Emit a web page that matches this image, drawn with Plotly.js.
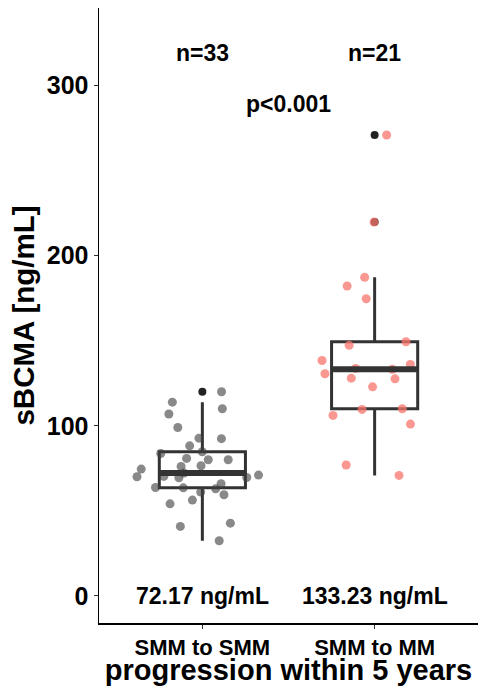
<!DOCTYPE html>
<html>
<head>
<meta charset="utf-8">
<script src="https://cdn.plot.ly/plotly-3.0.1.min.js"></script>
<style>html,body{margin:0;padding:0;background:#fff;}#chart{width:483px;height:686px;}</style>
</head>
<body>
<div id="chart"></div>
<script>
// ---- data ----
var categories = ["SMM to SMM", "SMM to MM"];
var smmToSmm = [120, 113.9, 110, 106.9, 99, 92.7, 92.4, 88.2, 83.7, 84.7, 80, 80, 80.8,
  76.5, 74.5, 76.1, 71, 69.4, 70, 72.17, 69.6, 70.2, 62.9, 63.7, 63.5, 65.9, 61, 59.4,
  56.3, 54.1, 40.8, 42.7, 32.4];
var smmToMm = [271, 219.8, 187.3, 182.2, 174.7, 149.4, 147.3, 138.4, 136.1, 133.7, 133.23,
  130.6, 127.6, 128, 122.9, 110, 109.6, 106.1, 101, 76.9, 70.8];
var pLabel = "p<0.001";
var yTicks = [0, 100, 200, 300];

// ---- helpers ----
function median(a) {
  var s = a.slice().sort(function (p, q) { return p - q; });
  var n = s.length;
  return n % 2 ? s[(n - 1) / 2] : (s[n / 2 - 1] + s[n / 2]) / 2;
}
function rep(v, n) { var r = []; for (var i = 0; i < n; i++) r.push(v); return r; }

var groups = [smmToSmm, smmToMm];
var pointColors = ["rgba(64,64,64,0.62)", "rgba(248,118,109,0.76)"];
var FONT = "Liberation Sans, Arial, Helvetica, sans-serif";
var traces = [];
var annotations = [];

groups.forEach(function (vals, gi) {
  var xpos = gi + 1;
  // box with black outliers
  traces.push({
    type: "box", x: rep(xpos, vals.length), y: vals,
    width: 0.5, boxpoints: "outliers", quartilemethod: "inclusive",
    whiskerwidth: 0,
    line: { color: "#333333", width: 3 },
    fillcolor: "rgba(255,255,255,0)",
    marker: { color: "#222222", size: 8, opacity: 1 },
    showlegend: false, hoverinfo: "y"
  });
  // thick median bar
  var m = median(vals);
  traces.push({
    type: "scatter", mode: "lines",
    x: [xpos - 0.25, xpos + 0.25], y: [m, m],
    line: { color: "#333333", width: 6 },
    showlegend: false, hoverinfo: "skip"
  });
  // jittered points
  traces.push({
    type: "box", x: rep(xpos, vals.length), y: vals,
    width: 0.85, boxpoints: "all", jitter: 1, pointpos: 0,
    line: { width: 0, color: "rgba(0,0,0,0)" },
    fillcolor: "rgba(0,0,0,0)",
    marker: { color: pointColors[gi], size: 9, line: { width: 0 } },
    showlegend: false, hoveron: "points", hoverinfo: "y"
  });
  annotations.push({
    x: xpos, y: 319, xref: "x", yref: "y", showarrow: false,
    text: "n=" + vals.length,
    font: { family: FONT, size: 23, color: "#000", weight: "bold" }
  });
  annotations.push({
    x: xpos, y: 0, xref: "x", yref: "y", showarrow: false,
    text: m.toFixed(2) + " ng/mL",
    font: { family: FONT, size: 23, color: "#000", weight: "bold" }
  });
});
annotations.push({
  x: 1.5, y: 289.5, xref: "x", yref: "y", showarrow: false,
  text: pLabel,
  font: { family: FONT, size: 23, color: "#000", weight: "bold" }
});

var layout = {
  width: 483, height: 686,
  margin: { l: 99, r: 5, t: 8, b: 63 },
  paper_bgcolor: "#fff", plot_bgcolor: "#fff",
  showlegend: false,
  boxmode: "overlay",
  font: { family: FONT, color: "#000" },
  xaxis: {
    range: [0.4, 2.6], tickvals: [1, 2], ticktext: categories,
    showgrid: false, zeroline: false,
    showline: true, linecolor: "#000", linewidth: 1.5,
    ticks: "outside", ticklen: 4, tickcolor: "#333", tickwidth: 1,
    tickfont: { family: FONT, size: 22, color: "#000", weight: "bold" },
    title: { text: "progression within 5 years", standoff: 9,
      font: { family: FONT, size: 29, color: "#000", weight: "bold" } }
  },
  yaxis: {
    range: [-16, 345.7], tickvals: yTicks,
    showgrid: false, zeroline: false,
    showline: true, linecolor: "#000", linewidth: 1.5,
    ticks: "outside", ticklen: 4, tickcolor: "#333", tickwidth: 1,
    tickfont: { family: FONT, size: 25, color: "#000", weight: "bold" },
    title: { text: "sBCMA [ng/mL]", standoff: 3,
      font: { family: FONT, size: 29.5, color: "#000", weight: "bold" } }
  },
  annotations: annotations
};

Plotly.newPlot("chart", traces, layout, { displayModeBar: false, staticPlot: true });
</script>
</body>
</html>
